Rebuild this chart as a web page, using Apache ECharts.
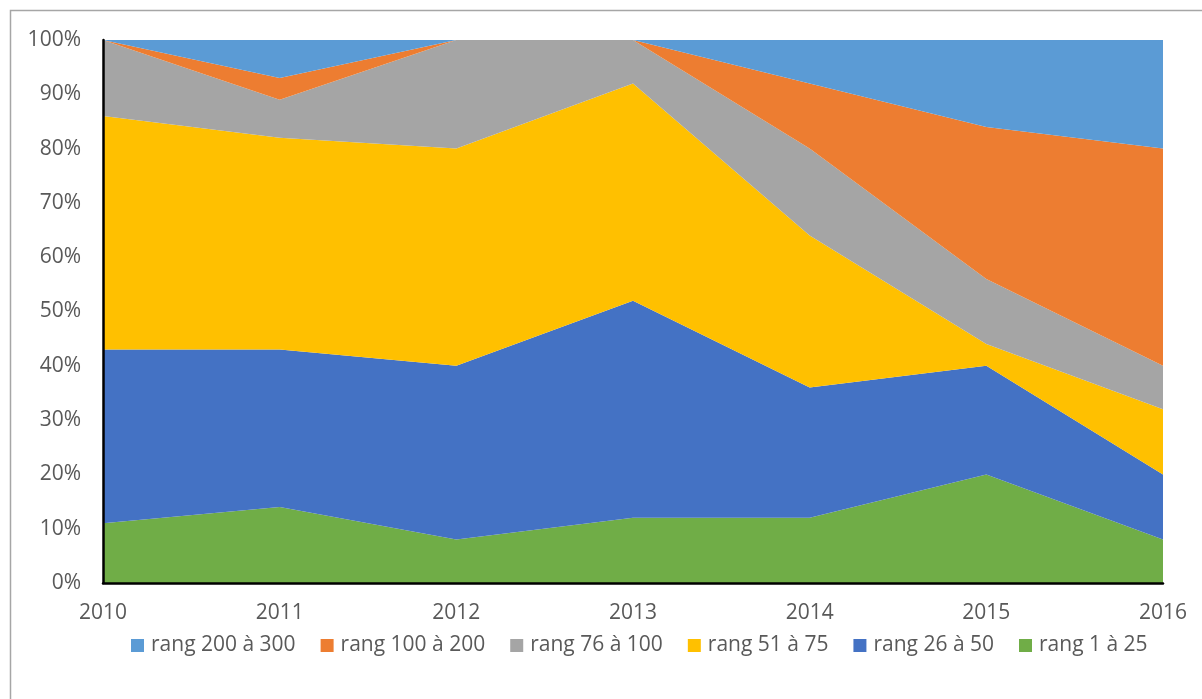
<!DOCTYPE html>
<html>
<head>
<meta charset="utf-8">
<script src="https://cdn.jsdelivr.net/npm/echarts@6/dist/echarts.min.js"></script>
<style>
  html, body { margin: 0; padding: 0; background: #fff; }
  #chart { width: 1202px; height: 699px; }
</style>
</head>
<body>
<div id="chart"></div>
<script>
// Share of ranked entries per year, by rank band (percent of total)
const years = ['2010', '2011', '2012', '2013', '2014', '2015', '2016'];
const rang1a25    = [11, 14, 8, 12, 12, 20, 8];
const rang26a50   = [32, 29, 32, 40, 24, 20, 12];
const rang51a75   = [43, 39, 40, 40, 28, 4, 12];
const rang76a100  = [14, 7, 20, 8, 16, 12, 8];
const rang100a200 = [0, 4, 0, 0, 12, 28, 40];
const rang200a300 = [0, 7, 0, 0, 8, 16, 20];
const yTicks = [0, 10, 20, 30, 40, 50, 60, 70, 80, 90, 100];

const FONT = '"Open Sans", "Liberation Sans", sans-serif';
const TXT = '#595959';
const FS = 21;

function area(name, data, color) {
  return {
    name: name,
    type: 'line',
    stack: 'total',
    data: data,
    symbol: 'none',
    lineStyle: { width: 0 },
    areaStyle: { color: color, opacity: 1 },
    itemStyle: { color: color },
    emphasis: { disabled: true }
  };
}

const chart = echarts.init(document.getElementById('chart'), null, { renderer: 'canvas' });
chart.setOption({
  animation: false,
  backgroundColor: '#ffffff',
  graphic: [{
    type: 'rect',
    shape: { x: 10.5, y: 10.5, width: 1210, height: 720 },
    style: { fill: 'none', stroke: '#a6a6a6', lineWidth: 1.5 },
    silent: true
  }],
  grid: { left: 103, right: 39, top: 40, bottom: 116, containLabel: false },
  legend: {
    bottom: 38,
    left: 126,
    itemWidth: 13,
    itemHeight: 13,
    itemGap: 25,
    icon: 'rect',
    textStyle: { color: TXT, fontSize: FS, fontFamily: FONT, padding: [0, 0, 0, 2] },
    data: ['rang 200 à 300', 'rang 100 à 200', 'rang 76 à 100', 'rang 51 à 75', 'rang 26 à 50', 'rang 1 à 25']
  },
  xAxis: {
    type: 'category',
    boundaryGap: false,
    data: years,
    axisLine: { show: true, lineStyle: { color: '#000', width: 2.5 } },
    axisTick: { show: false },
    axisLabel: { color: TXT, fontSize: FS, fontFamily: FONT, margin: 20 },
    splitLine: { show: false },
    z: 10
  },
  yAxis: {
    type: 'value',
    min: 0,
    max: 100,
    interval: 10,
    axisLine: { show: true, lineStyle: { color: '#000', width: 2.5 } },
    axisTick: { show: false },
    axisLabel: {
      color: TXT, fontSize: FS, fontFamily: FONT, margin: 22,
      formatter: v => (yTicks.includes(v) ? v + '%' : '')
    },
    splitLine: { show: false },
    z: 10
  },
  series: [
    area('rang 1 à 25', rang1a25, '#70AD47'),
    area('rang 26 à 50', rang26a50, '#4472C4'),
    area('rang 51 à 75', rang51a75, '#FFC000'),
    area('rang 76 à 100', rang76a100, '#A5A5A5'),
    area('rang 100 à 200', rang100a200, '#ED7D31'),
    area('rang 200 à 300', rang200a300, '#5B9BD5')
  ]
});
</script>
</body>
</html>
